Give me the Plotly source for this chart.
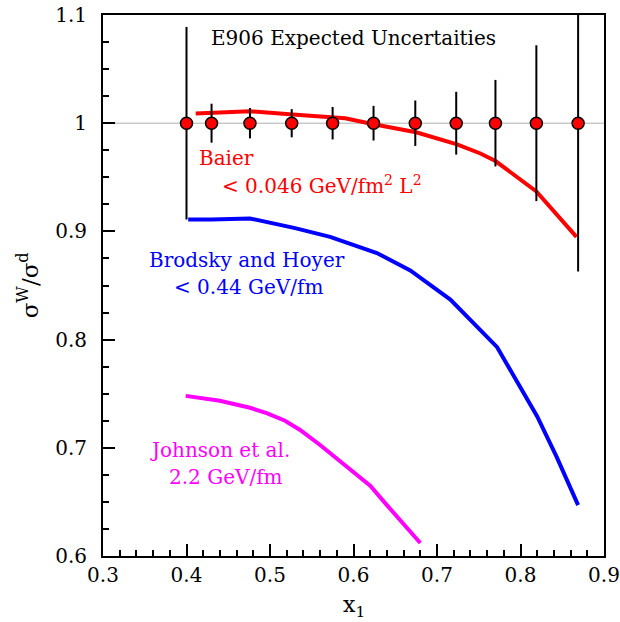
import plotly.graph_objects as go

# E906 projected ratio points with statistical uncertainties
x_points = [0.400, 0.430, 0.476, 0.526, 0.575, 0.624, 0.674, 0.723, 0.770, 0.819, 0.869]
y_points = [1.0] * 11
y_err = [0.089, 0.018, 0.014, 0.013, 0.015, 0.016, 0.021, 0.029, 0.040, 0.072, 0.137]

# Baier energy-loss curve
baier_x = [0.411, 0.450, 0.476, 0.527, 0.575, 0.590, 0.624, 0.675, 0.724, 0.752, 0.770, 0.819, 0.867]
baier_y = [1.009, 1.010, 1.011, 1.008, 1.0055, 1.0045, 0.999, 0.9916, 0.9805, 0.972, 0.965, 0.937, 0.895]

# Brodsky and Hoyer curve
bh_x = [0.402, 0.430, 0.476, 0.530, 0.572, 0.628, 0.668, 0.716, 0.772, 0.820, 0.843, 0.869]
bh_y = [0.911, 0.911, 0.912, 0.903, 0.895, 0.880, 0.864, 0.837, 0.793, 0.729, 0.692, 0.647]

# Johnson et al. curve
jo_x = [0.399, 0.440, 0.476, 0.496, 0.518, 0.536, 0.560, 0.592, 0.620, 0.640, 0.660, 0.680]
jo_y = [0.748, 0.7435, 0.737, 0.732, 0.725, 0.7165, 0.7026, 0.683, 0.665, 0.647, 0.630, 0.612]

FONT = "DejaVu Serif"

fig = go.Figure()

fig.add_trace(go.Scatter(x=baier_x, y=baier_y, mode="lines",
                         line=dict(color="#ff0000", width=4), showlegend=False))
fig.add_trace(go.Scatter(x=bh_x, y=bh_y, mode="lines",
                         line=dict(color="#0000ff", width=4), showlegend=False))
fig.add_trace(go.Scatter(x=jo_x, y=jo_y, mode="lines",
                         line=dict(color="#ff00ff", width=4), showlegend=False))
fig.add_trace(go.Scatter(
    x=x_points, y=y_points, mode="markers",
    marker=dict(color="#ff0000", size=12, line=dict(color="black", width=1.5)),
    error_y=dict(type="data", array=y_err, color="black", thickness=2, width=0),
    showlegend=False))

# reference line at unity
fig.add_shape(type="line", xref="paper", yref="y", x0=0, x1=1, y0=1.0, y1=1.0,
              line=dict(color="#b0b0b0", width=1), layer="below")

annos = [
    dict(x=0.600, y=1.0787, text="E906 Expected Uncertaities", color="black", xanchor="center"),
    dict(x=0.4126, y=0.9678, text="Baier", color="#ff0000", xanchor="left"),
    dict(x=0.440, y=0.9429, text="< 0.046 GeV/fm<sup>2</sup> L<sup>2</sup>", color="#ff0000", xanchor="left"),
    dict(x=0.3527, y=0.8736, text="Brodsky and Hoyer", color="#0000ff", xanchor="left"),
    dict(x=0.3826, y=0.8486, text="< 0.44 GeV/fm", color="#0000ff", xanchor="left"),
    dict(x=0.354, y=0.698, text="Johnson et al.", color="#ff00ff", xanchor="left"),
    dict(x=0.3766, y=0.673, text="2.2 GeV/fm", color="#ff00ff", xanchor="left"),
]
for a in annos:
    fig.add_annotation(x=a["x"], y=a["y"], xref="x", yref="y", text=a["text"],
                       showarrow=False, xanchor=a["xanchor"], yanchor="middle",
                       font=dict(family=FONT, size=20, color=a["color"]))

fig.add_annotation(x=-0.150, y=0.5, xref="paper", yref="paper",
                   text="σ<sup>W</sup>/σ<sup>d</sup>", textangle=-90, showarrow=False,
                   xanchor="center", yanchor="middle",
                   font=dict(family=FONT, size=23, color="black"))
fig.add_annotation(x=0.5, y=-0.094, xref="paper", yref="paper",
                   text="x<sub>1</sub>", showarrow=False,
                   xanchor="center", yanchor="middle",
                   font=dict(family=FONT, size=22, color="black"))

axis_common = dict(
    showgrid=False, zeroline=False, showline=True, linecolor="black", linewidth=2,
    mirror=True, ticks="inside", ticklen=12, tickwidth=2, tickcolor="black",
    tickfont=dict(family=FONT, size=20, color="black"), automargin=False,
)

fig.update_xaxes(range=[0.3, 0.9], tickvals=[0.3, 0.4, 0.5, 0.6, 0.7, 0.8, 0.9],
                 ticktext=["0.3", "0.4", "0.5", "0.6", "0.7", "0.8", "0.9"],
                 minor=dict(dtick=0.02, tick0=0.3, ticks="inside", ticklen=6,
                            tickwidth=2, tickcolor="black", showgrid=False),
                 **axis_common)
fig.update_yaxes(range=[0.6, 1.1], tickvals=[0.6, 0.7, 0.8, 0.9, 1.0, 1.1],
                 ticktext=["0.6", "0.7", "0.8", "0.9", "1", "1.1"],
                 minor=dict(dtick=0.025, tick0=0.6, ticks="inside", ticklen=6,
                            tickwidth=2, tickcolor="black", showgrid=False),
                 ticklabelstandoff=10,
                 **axis_common)

fig.update_layout(
    width=620, height=622,
    margin=dict(l=103, r=16, t=15, b=66),
    paper_bgcolor="white", plot_bgcolor="white",
    font=dict(family=FONT, size=20, color="black"),
)

fig.write_html("out.html")
